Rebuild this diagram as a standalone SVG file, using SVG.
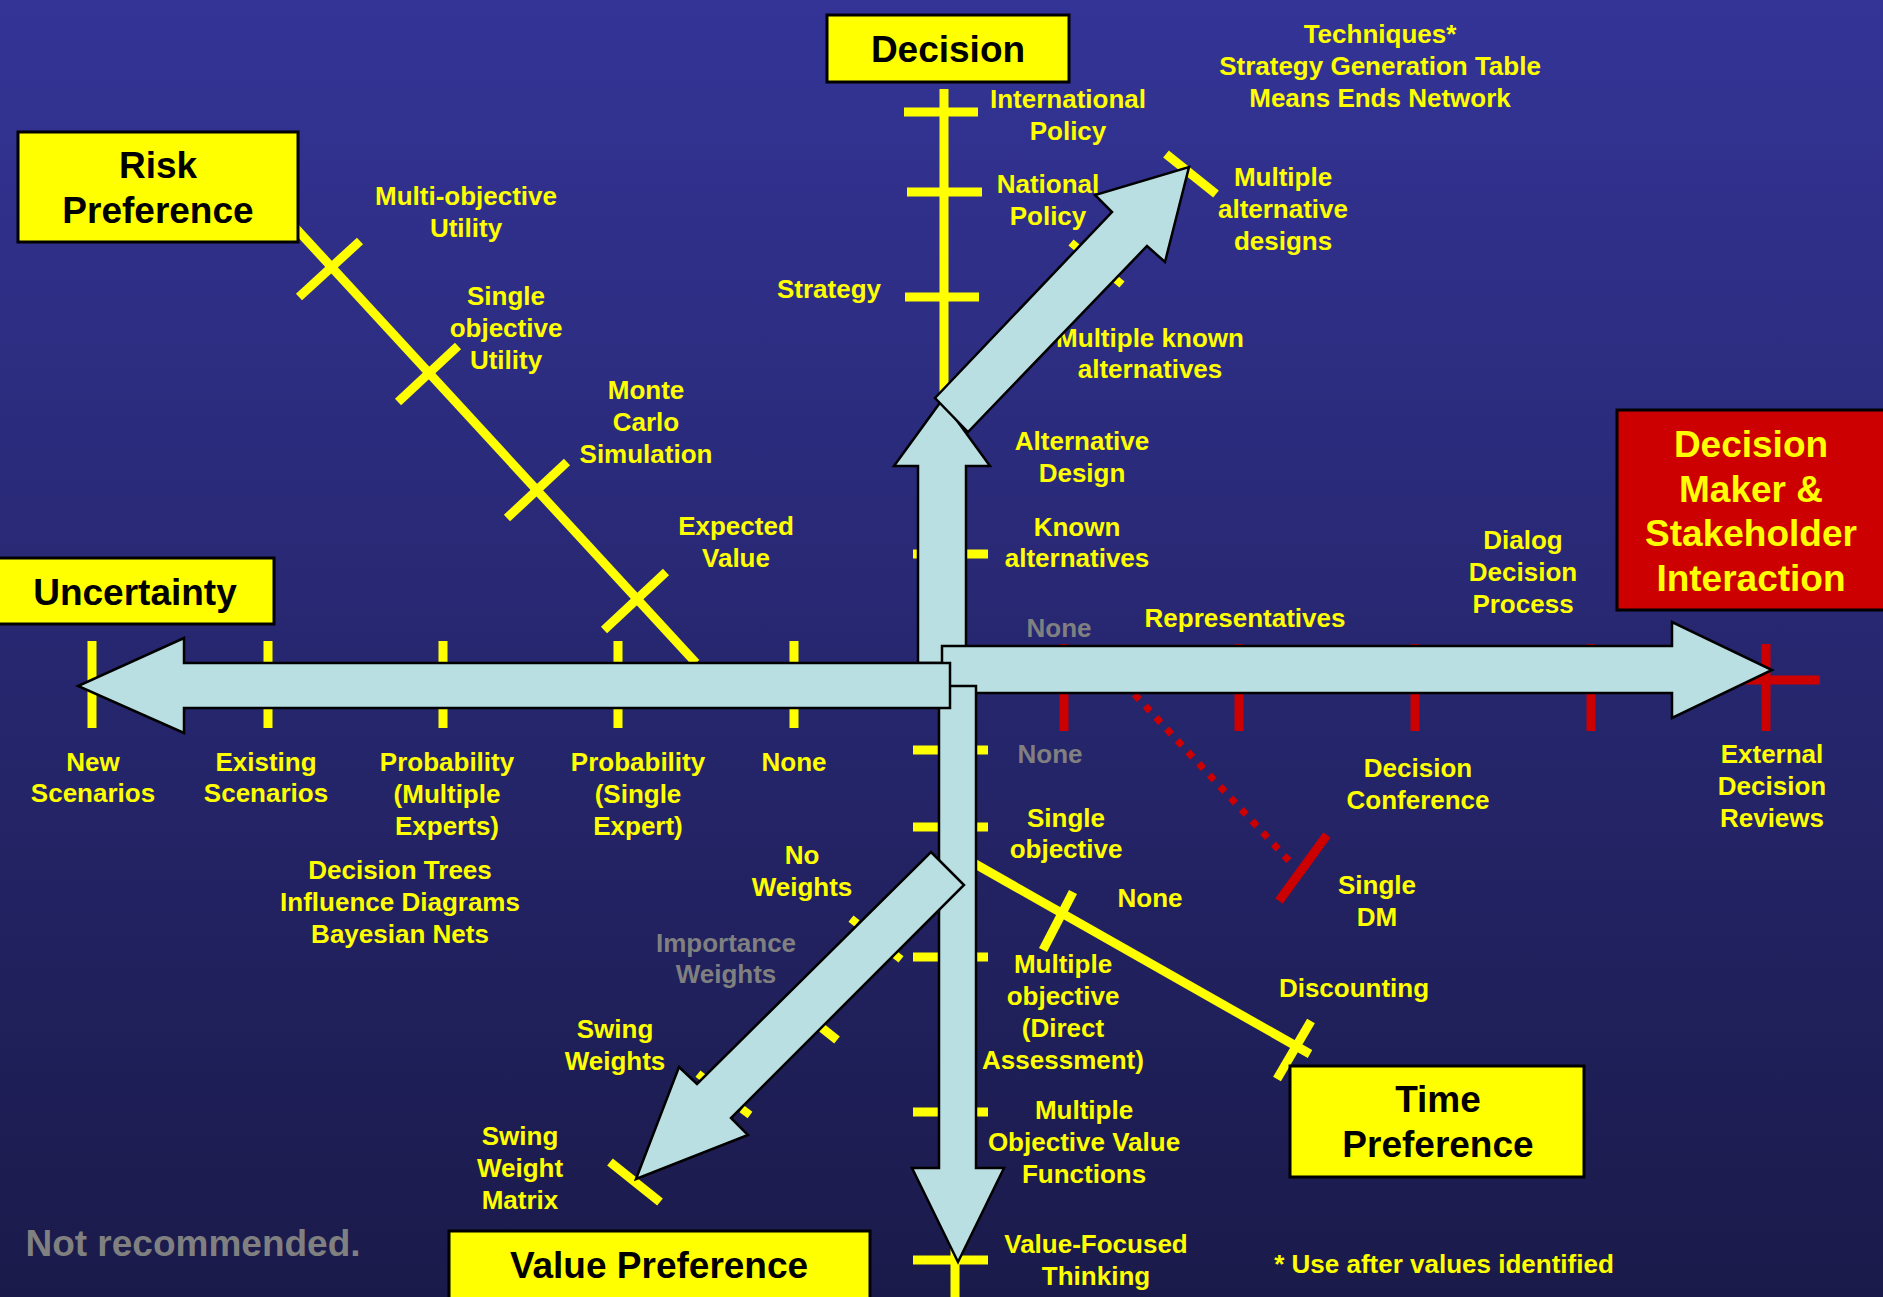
<svg xmlns="http://www.w3.org/2000/svg" width="1883" height="1297" viewBox="0 0 1883 1297">
<defs>
<linearGradient id="bg" x1="0" y1="0" x2="0" y2="1">
<stop offset="0" stop-color="#343497"/>
<stop offset="1" stop-color="#1a1a4a"/>
</linearGradient>
<style>
text{font-family:"Liberation Sans",Arial,sans-serif;font-weight:bold;text-anchor:middle}
.lbl{font-size:26px;fill:#ffff00}
.gray{fill:#808080}
.title{font-size:37px;fill:#000}
.rtitle{font-size:37px;fill:#ffff00}
.box{fill:#ffff00;stroke:#000;stroke-width:3}
.rbox{fill:#cc0000;stroke:#000;stroke-width:3}
.arrow{fill:#b9dfe3;stroke:#000;stroke-width:2.5;stroke-linejoin:miter}
.ax{stroke:#ffff00;stroke-width:9;fill:none}
.bit{stroke:#ffff00;stroke-width:8;fill:none}
.rax{stroke:#cc0000;stroke-width:9;fill:none}
.dots{stroke:#cc0000;stroke-width:7;stroke-dasharray:7 8.7;fill:none}
</style>
</defs>
<rect x="0" y="0" width="1883" height="1297" fill="url(#bg)"/>

<g id="axes">
<line class="ax" x1="944" y1="89" x2="944" y2="420"/>
<line class="ax" x1="904" y1="112" x2="978" y2="112"/>
<line class="ax" x1="907" y1="192" x2="982" y2="192"/>
<line class="ax" x1="905" y1="297" x2="979" y2="297"/>
<line class="ax" x1="913" y1="554" x2="988" y2="554"/>
<line class="bit" x1="1071" y1="242.5" x2="1077" y2="247.5"/>
<line class="bit" x1="1116" y1="279.5" x2="1122" y2="284.5"/>
<line class="ax" x1="1166" y1="154" x2="1216" y2="194"/>
<line class="ax" x1="290" y1="222" x2="696" y2="663"/>
<line class="ax" x1="299" y1="297" x2="360" y2="241"/>
<line class="ax" x1="398" y1="402" x2="458" y2="346"/>
<line class="ax" x1="507" y1="518" x2="567" y2="462"/>
<line class="ax" x1="604" y1="630" x2="666" y2="572"/>
<line class="ax" x1="92" y1="686" x2="940" y2="686"/>
<line class="ax" x1="92" y1="641" x2="92" y2="728"/>
<line class="ax" x1="268" y1="641" x2="268" y2="728"/>
<line class="ax" x1="443" y1="641" x2="443" y2="728"/>
<line class="ax" x1="618" y1="641" x2="618" y2="728"/>
<line class="ax" x1="794" y1="641" x2="794" y2="728"/>
<line class="rax" x1="1064" y1="680" x2="1820" y2="680"/>
<line class="rax" x1="1064" y1="644" x2="1064" y2="731"/>
<line class="rax" x1="1239" y1="644" x2="1239" y2="731"/>
<line class="rax" x1="1415" y1="644" x2="1415" y2="731"/>
<line class="rax" x1="1591" y1="644" x2="1591" y2="731"/>
<line class="rax" x1="1766" y1="644" x2="1766" y2="731"/>
<line class="dots" x1="1134.6" y1="694.4" x2="1292" y2="864"/>
<line class="rax" x1="1327" y1="835" x2="1279" y2="901"/>
<line class="ax" x1="955" y1="740" x2="955" y2="1297"/>
<line class="ax" x1="913" y1="750" x2="988" y2="750"/>
<line class="ax" x1="913" y1="827" x2="988" y2="827"/>
<line class="ax" x1="913" y1="957" x2="988" y2="957"/>
<line class="ax" x1="913" y1="1112" x2="988" y2="1112"/>
<line class="ax" x1="913" y1="1260" x2="988" y2="1260"/>
<line class="bit" x1="851" y1="918.6" x2="857" y2="923.4"/>
<line class="bit" x1="895" y1="954.6" x2="901" y2="959.4"/>
<line class="ax" x1="822" y1="1028" x2="837" y2="1040"/>
<line class="bit" x1="698" y1="1073.6" x2="704" y2="1078.4"/>
<line class="bit" x1="742" y1="1109" x2="750" y2="1115"/>
<line class="ax" x1="610" y1="1162" x2="660" y2="1202"/>
<line class="ax" x1="970" y1="861" x2="1310" y2="1054"/>
<line class="ax" x1="1073" y1="892" x2="1043" y2="950"/>
<line class="ax" x1="1311" y1="1021" x2="1277" y2="1079"/>
</g>

<g id="labels">
<text class="lbl" x="1068" y="108">International</text>
<text class="lbl" x="1068" y="140">Policy</text>
<text class="lbl" x="1048" y="193">National</text>
<text class="lbl" x="1048" y="225">Policy</text>
<text class="lbl" x="829" y="298">Strategy</text>
<text class="lbl" x="1380" y="43">Techniques*</text>
<text class="lbl" x="1380" y="75">Strategy Generation Table</text>
<text class="lbl" x="1380" y="107">Means Ends Network</text>
<text class="lbl" x="1283" y="186">Multiple</text>
<text class="lbl" x="1283" y="218">alternative</text>
<text class="lbl" x="1283" y="250">designs</text>
<text class="lbl" x="1150" y="347">Multiple known</text>
<text class="lbl" x="1150" y="378">alternatives</text>
<text class="lbl" x="1082" y="450">Alternative</text>
<text class="lbl" x="1082" y="482">Design</text>
<text class="lbl" x="1077" y="536">Known</text>
<text class="lbl" x="1077" y="567">alternatives</text>
<text class="lbl gray" x="1059" y="637">None</text>
<text class="lbl" x="1245" y="627">Representatives</text>
<text class="lbl" x="1523" y="549">Dialog</text>
<text class="lbl" x="1523" y="581">Decision</text>
<text class="lbl" x="1523" y="613">Process</text>
<text class="lbl" x="1418" y="777">Decision</text>
<text class="lbl" x="1418" y="809">Conference</text>
<text class="lbl" x="1772" y="763">External</text>
<text class="lbl" x="1772" y="795">Decision</text>
<text class="lbl" x="1772" y="827">Reviews</text>
<text class="lbl" x="1377" y="894">Single</text>
<text class="lbl" x="1377" y="926">DM</text>
<text class="lbl gray" x="1050" y="763">None</text>
<text class="lbl" x="1066" y="827">Single</text>
<text class="lbl" x="1066" y="858">objective</text>
<text class="lbl" x="1150" y="907">None</text>
<text class="lbl" x="1354" y="997">Discounting</text>
<text class="lbl" x="1063" y="973">Multiple</text>
<text class="lbl" x="1063" y="1005">objective</text>
<text class="lbl" x="1063" y="1037">(Direct</text>
<text class="lbl" x="1063" y="1069">Assessment)</text>
<text class="lbl" x="1084" y="1119">Multiple</text>
<text class="lbl" x="1084" y="1151">Objective Value</text>
<text class="lbl" x="1084" y="1183">Functions</text>
<text class="lbl" x="1096" y="1253">Value-Focused</text>
<text class="lbl" x="1096" y="1285">Thinking</text>
<text class="lbl" x="1444" y="1273">* Use after values identified</text>
<text class="lbl" x="466" y="205">Multi-objective</text>
<text class="lbl" x="466" y="237">Utility</text>
<text class="lbl" x="506" y="305">Single</text>
<text class="lbl" x="506" y="337">objective</text>
<text class="lbl" x="506" y="369">Utility</text>
<text class="lbl" x="646" y="399">Monte</text>
<text class="lbl" x="646" y="431">Carlo</text>
<text class="lbl" x="646" y="463">Simulation</text>
<text class="lbl" x="736" y="535">Expected</text>
<text class="lbl" x="736" y="567">Value</text>
<text class="lbl" x="93" y="771">New</text>
<text class="lbl" x="93" y="802">Scenarios</text>
<text class="lbl" x="266" y="771">Existing</text>
<text class="lbl" x="266" y="802">Scenarios</text>
<text class="lbl" x="447" y="771">Probability</text>
<text class="lbl" x="447" y="803">(Multiple</text>
<text class="lbl" x="447" y="835">Experts)</text>
<text class="lbl" x="638" y="771">Probability</text>
<text class="lbl" x="638" y="803">(Single</text>
<text class="lbl" x="638" y="835">Expert)</text>
<text class="lbl" x="794" y="771">None</text>
<text class="lbl" x="400" y="879">Decision Trees</text>
<text class="lbl" x="400" y="911">Influence Diagrams</text>
<text class="lbl" x="400" y="943">Bayesian Nets</text>
<text class="lbl" x="802" y="864">No</text>
<text class="lbl" x="802" y="896">Weights</text>
<text class="lbl gray" x="726" y="952">Importance</text>
<text class="lbl gray" x="726" y="983">Weights</text>
<text class="lbl" x="615" y="1038">Swing</text>
<text class="lbl" x="615" y="1070">Weights</text>
<text class="lbl" x="520" y="1145">Swing</text>
<text class="lbl" x="520" y="1177">Weight</text>
<text class="lbl" x="520" y="1209">Matrix</text>
<text class="gray" x="193" y="1256" font-size="37">Not recommended.</text>
</g>

<g id="connectors">
<polygon id="arrow-up" class="arrow" points="918,663 918,466 894,466 942,400 990,466 966,466 966,663"/>
<polygon id="arrow-diag-up" class="arrow" points="935,398 1112,212 1095,195 1189,167 1165,262 1147,246 968,432"/>
<polygon id="arrow-right" class="arrow" points="942,646 1672,646 1672,622 1772,670 1672,718 1672,693 942,693"/>
<polygon id="arrow-down" class="arrow" points="939,686 976,686 976,1168 1004,1168 958,1262 912,1168 939,1168"/>
<polygon id="arrow-left" class="arrow" points="950,663 184,663 184,638 78,686 184,733 184,708 950,708"/>
<polygon id="arrow-diag-down" class="arrow" points="931,852 964,885 731,1118 748,1135 636,1179 679,1067 697,1084"/>
</g>

<g id="node-decision">
<rect class="box" x="827" y="15" width="242" height="67"/>
<text class="title" x="948" y="62">Decision</text>
</g>
<g id="node-risk">
<rect class="box" x="18" y="132" width="280" height="110"/>
<text class="title" x="158" y="178">Risk</text>
<text class="title" x="158" y="223">Preference</text>
</g>
<g id="node-uncertainty">
<rect class="box" x="-3" y="558" width="277" height="66"/>
<text class="title" x="135" y="605">Uncertainty</text>
</g>
<g id="node-stakeholder">
<rect class="rbox" x="1617" y="410" width="270" height="200"/>
<text class="rtitle" x="1751" y="457">Decision</text>
<text class="rtitle" x="1751" y="502">Maker &amp;</text>
<text class="rtitle" x="1751" y="546">Stakeholder</text>
<text class="rtitle" x="1751" y="591">Interaction</text>
</g>
<g id="node-time">
<rect class="box" x="1290" y="1066" width="294" height="111"/>
<text class="title" x="1438" y="1112">Time</text>
<text class="title" x="1438" y="1157">Preference</text>
</g>
<g id="node-value">
<rect class="box" x="449" y="1231" width="421" height="72"/>
<text class="title" x="659" y="1278">Value Preference</text>
</g>
</svg>
